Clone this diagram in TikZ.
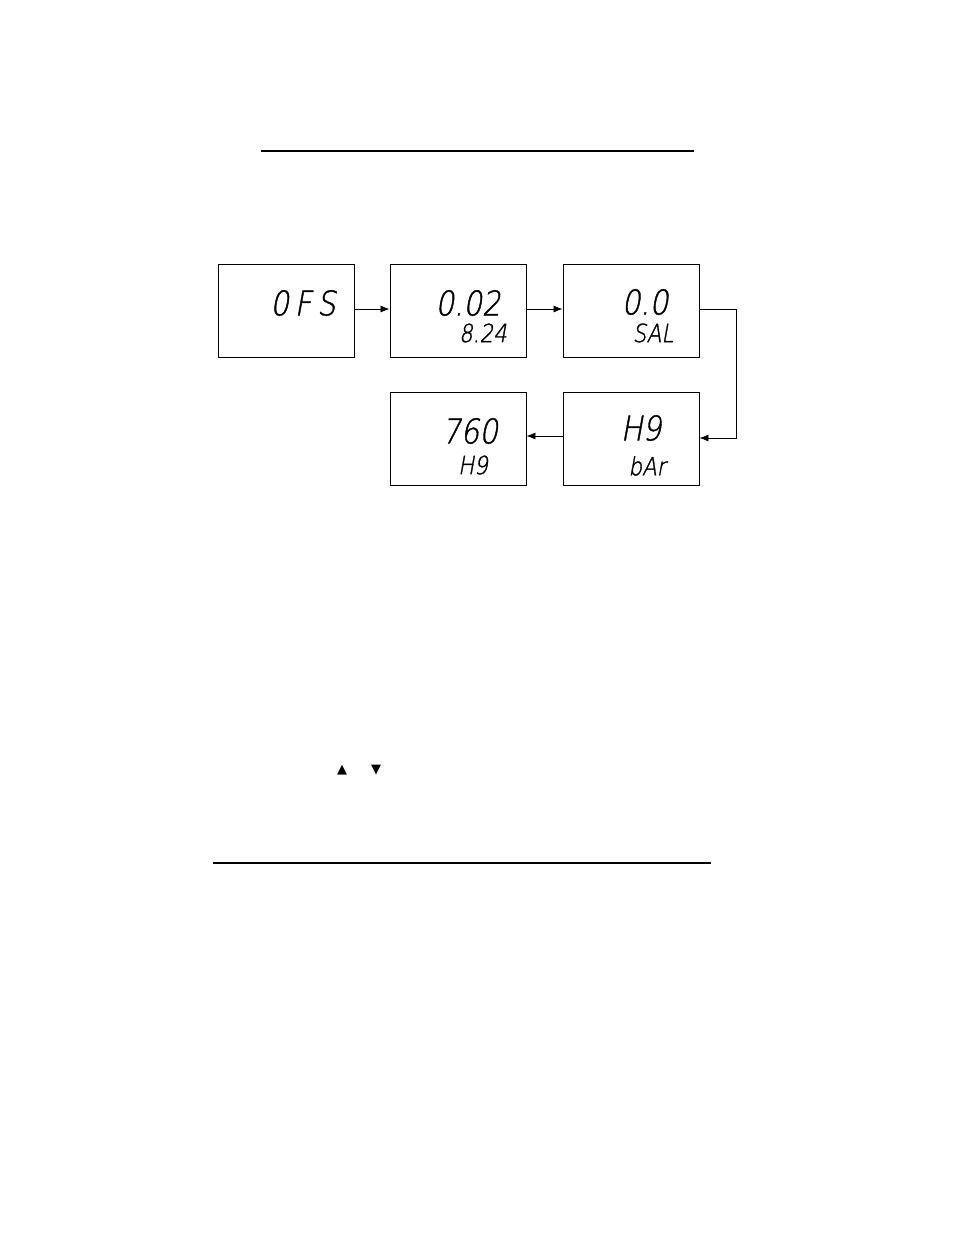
\documentclass[tikz,border=0pt]{standalone}
\usepackage{fontspec}
\newfontfamily\lcd[FakeSlant=0.18,FakeStretch=0.86,FakeBold=1.2]{DejaVu Sans ExtraLight}
\newfontfamily\sym{DejaVu Sans}
\usetikzlibrary{arrows.meta}
\begin{document}
\begin{tikzpicture}[x=1pt,y=-1pt,
  disp/.style={draw,line width=0.9pt,minimum width=136pt,minimum height=93pt,inner sep=0pt},
  big/.style={font=\lcd\fontsize{34}{34}\selectfont,inner sep=0pt},
  small/.style={font=\lcd\fontsize{25}{25}\selectfont,inner sep=0pt},
  conn/.style={line width=0.8pt,-{Latex[length=9pt,width=7pt]}}]
\useasboundingbox (0,0) rectangle (954,1235);
\draw[line width=2pt] (261,151) -- (694,151);
\draw[line width=1.3pt] (213,863) -- (711,863);
\node[disp] (b1) at (286,310.5) {};
\node[disp] (b2) at (458,310.5) {};
\node[disp] (b3) at (631,310.5) {};
\node[disp] (b4) at (458,439) {};
\node[disp] (b5) at (631,439) {};
\node[big] at (303,303) {0\,F\,S};
\node[big] at (468,303) {0.02};
\node[small] at (483,333) {8.24};
\node[big] at (645,302) {0.0};
\node[small] at (653,333) {SAL};
\node[big] at (470,431) {760};
\node[small] at (473,465) {H9};
\node[big] at (641,428) {H9};
\node[small] at (647,466) {bAr};
\draw[conn] (b1.east|-0,309) -- (b2.west|-0,309);
\draw[conn] (b2.east|-0,309) -- (b3.west|-0,309);
\coordinate (c1) at (736,309);
\coordinate (c2) at (736,438);
\draw[conn] (b3.east|-c1) -- (c1) -- (c2) -- (b5.east|-c2);
\draw[conn] (b5.west|-0,436) -- (b4.east|-0,436);
\node[font=\sym\fontsize{13}{13}\selectfont,inner sep=0pt] (up) at (342,770) {▲};
\node[font=\sym\fontsize{13}{13}\selectfont,inner sep=0pt] (dn) at (376,770) {▼};
\end{tikzpicture}
\end{document}
